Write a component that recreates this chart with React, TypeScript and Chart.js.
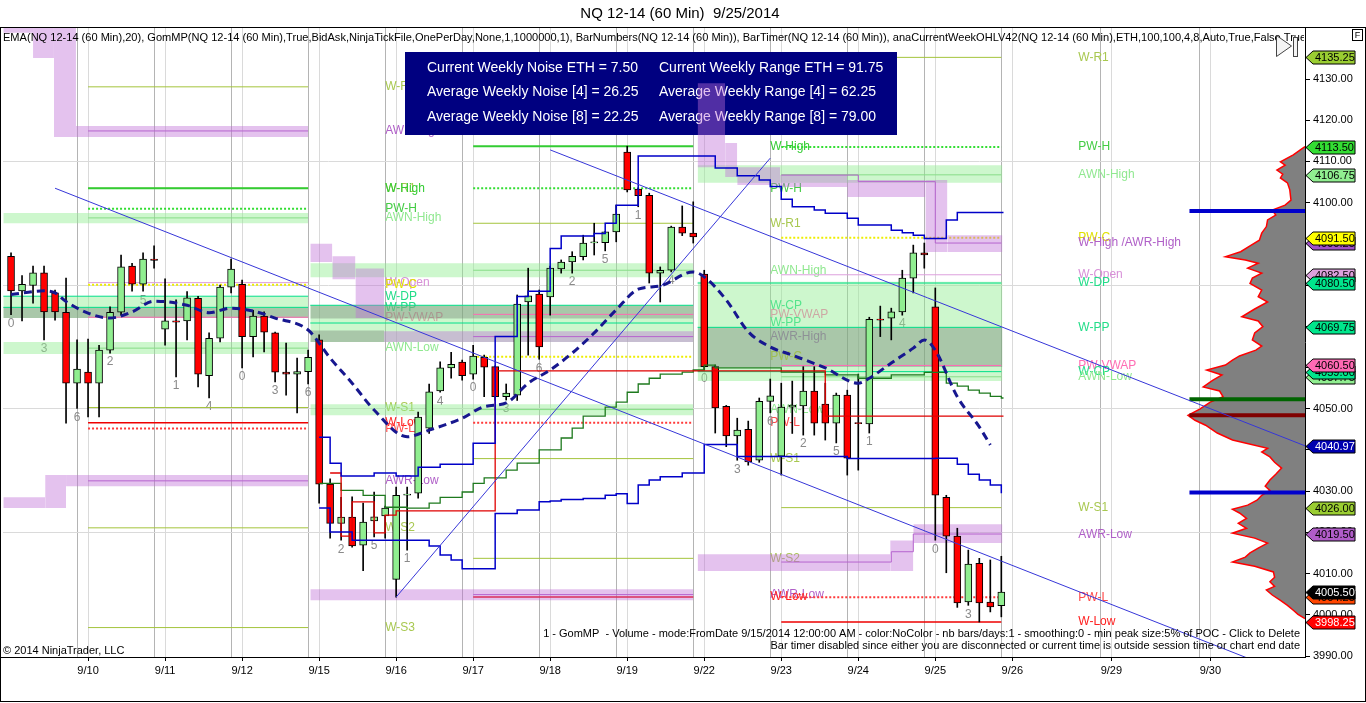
import React, { useEffect, useRef } from 'react';
import { Chart, registerables } from 'chart.js';

Chart.register(...registerables);

const FONT = '"Liberation Sans", Arial, Helvetica, sans-serif';

// ---------- texts ----------
const TITLE = 'NQ 12-14 (60 Min)  9/25/2014';
const INDICATOR_LINE =
  'EMA(NQ 12-14 (60 Min),20), GomMP(NQ 12-14 (60 Min),True,BidAsk,NinjaTickFile,OnePerDay,None,1,1000000,1), BarNumbers(NQ 12-14 (60 Min)), BarTimer(NQ 12-14 (60 Min)), anaCurrentWeekOHLV42(NQ 12-14 (60 Min),ETH,100,100,4,8,Auto,True,False,True)';
const INDICATOR_FIT_PREFIX =
  'EMA(NQ 12-14 (60 Min),20), GomMP(NQ 12-14 (60 Min),True,BidAsk,NinjaTickFile,OnePerDay,None,1,1000000,1), BarNumbers(NQ 12-14 (60 Min)), BarTimer(NQ 12-14 (60 Min)), anaCurrentWeekOHLV42(NQ 12-14 (60 Min),ETH,100,100,4,8,Auto,True,False,Tru';
const INFO_LEFT = ['Current Weekly Noise ETH = 7.50', 'Average Weekly Noise [4] = 26.25', 'Average Weekly Noise [8] = 22.25'];
const INFO_RIGHT = ['Current Weekly Range ETH = 91.75', 'Average Weekly Range [4] = 62.25', 'Average Weekly Range [8] = 79.00'];
const GOM_TEXT =
  '1 - GomMP  - Volume - mode:FromDate 9/15/2014 12:00:00 AM - color:NoColor - nb bars/days:1 - smoothing:0 - min peak size:5% of POC - Click to Delete';
const TIMER_TEXT =
  'Bar timer disabled since either you are disconnected or current time is outside session time or chart end date';
const COPYRIGHT = '\u00A9 2014 NinjaTrader, LLC';

// ---------- axes ----------
const DATE_TICKS = [7, 14, 21, 28, 35, 42, 49, 56, 63, 70, 77, 84, 91, 100, 109];
const DATE_LABELS = ['9/10', '9/11', '9/12', '9/15', '9/16', '9/17', '9/18', '9/19', '9/22', '9/23', '9/24', '9/25', '9/26', '9/29', '9/30'];
const SESSION_BREAKS = [6, 13, 20, 27, 34, 41, 48, 55, 62, 69, 76, 83, 90, 99, 108];
const PRICE_TICKS = [3990, 4000, 4010, 4020, 4030, 4040, 4050, 4060, 4070, 4080, 4090, 4100, 4110, 4120, 4130];
const PRICE_GRID = [4020, 4050, 4080, 4110];
const X_MIN = -0.73;
const X_MAX = 117.6;
const Y_MIN = 3989.76;
const Y_MAX = 4142.62;

// ---------- 60 min bars (9/9 .. 9/25, 7 bars per session) ----------
const OPEN = [4087.0, 4078.6, 4079.9, 4083.0, 4078.1, 4073.4, 4056.2, 4058.9, 4056.2, 4064.2,
  4073.4, 4084.6, 4080.2, 4086.3, 4069.3, 4071.3, 4071.3, 4076.8, 4058.0, 4067.1,
  4079.5, 4080.2, 4067.5, 4072.5, 4068.4, 4058.9, 4058.4, 4059.0, 4066.7, 4031.7,
  4022.2, 4023.7, 4016.9, 4022.8, 4024.0, 4008.6, 4029.0, 4029.5, 4045.3, 4054.3,
  4059.9, 4061.3, 4058.4, 4062.5, 4060.2, 4052.9, 4053.3, 4075.9, 4077.8, 4077.1,
  4083.9, 4085.6, 4086.9, 4090.2, 4090.3, 4092.9, 4112.3, 4103.3, 4101.8, 4082.9,
  4083.6, 4094.1, 4092.6, 4082.7, 4060.2, 4050.6, 4043.4, 4045.0, 4037.5, 4051.8,
  4038.5, 4050.4, 4050.7, 4054.3, 4051.1, 4046.5, 4053.3, 4046.6, 4046.3, 4071.7,
  4072.0, 4073.5, 4081.7, 4087.8, 4074.7, 4028.5, 4019.1, 4003.1, 4012.5, 4003.1,
  4002.2];
const HIGH = [4087.8, 4082.3, 4084.6, 4084.6, 4078.8, 4081.7, 4066.7, 4066.9, 4065.4, 4074.7,
  4087.3, 4085.3, 4087.8, 4089.5, 4081.5, 4076.4, 4078.4, 4077.3, 4068.4, 4080.0,
  4086.3, 4081.2, 4073.9, 4073.5, 4068.6, 4065.9, 4062.3, 4064.2, 4067.9, 4033.0,
  4028.5, 4028.6, 4027.1, 4029.8, 4026.4, 4031.0, 4031.0, 4049.2, 4056.0, 4061.4,
  4063.7, 4061.8, 4065.4, 4063.0, 4060.4, 4056.0, 4077.6, 4084.1, 4078.8, 4084.6,
  4086.1, 4088.1, 4092.1, 4095.0, 4093.0, 4099.4, 4113.7, 4103.5, 4102.3, 4084.4,
  4094.3, 4099.2, 4100.2, 4083.6, 4060.6, 4050.8, 4047.7, 4047.0, 4052.6, 4057.2,
  4056.2, 4056.7, 4060.2, 4060.2, 4056.2, 4053.8, 4054.5, 4058.4, 4072.2, 4074.9,
  4074.4, 4083.6, 4089.7, 4090.2, 4079.3, 4029.0, 4021.0, 4015.7, 4013.7, 4013.3,
  4014.2];
const LOW = [4072.8, 4071.3, 4075.6, 4066.7, 4071.5, 4046.5, 4050.1, 4048.0, 4048.0, 4063.5,
  4072.7, 4078.5, 4078.5, 4084.1, 4065.4, 4057.7, 4066.7, 4055.3, 4052.6, 4066.2,
  4078.1, 4059.9, 4062.6, 4063.8, 4056.5, 4053.3, 4049.0, 4056.0, 4027.1, 4018.6,
  4018.1, 4016.4, 4010.7, 4018.9, 4018.6, 4004.3, 4015.7, 4028.3, 4044.0, 4054.0,
  4057.4, 4056.9, 4057.2, 4052.9, 4052.1, 4052.1, 4052.0, 4063.0, 4062.0, 4072.7,
  4082.9, 4082.9, 4086.1, 4087.3, 4088.3, 4090.5, 4102.6, 4099.0, 4080.5, 4075.9,
  4083.2, 4092.0, 4090.2, 4059.5, 4044.1, 4040.8, 4037.5, 4036.3, 4037.0, 4049.0,
  4033.9, 4044.0, 4043.6, 4043.6, 4042.4, 4041.7, 4033.9, 4035.1, 4044.1, 4067.5,
  4066.7, 4072.7, 4078.1, 4084.1, 4018.1, 4010.2, 4001.8, 4002.3, 3998.25, 4000.7,
  3999.5];
const CLOSE = [4078.6, 4080.2, 4083.0, 4073.5, 4073.5, 4056.2, 4059.6, 4056.2, 4064.2, 4073.4,
  4084.4, 4080.2, 4086.3, 4086.0, 4071.3, 4071.0, 4076.9, 4058.4, 4067.1, 4079.5,
  4083.9, 4067.5, 4072.5, 4068.6, 4058.9, 4058.4, 4059.0, 4062.5, 4031.7, 4022.2,
  4023.7, 4016.7, 4022.5, 4023.8, 4025.9, 4029.0, 4029.3, 4048.0, 4054.1, 4059.9,
  4060.8, 4058.0, 4062.8, 4060.1, 4052.9, 4053.8, 4075.4, 4077.4, 4065.0, 4084.1,
  4085.6, 4087.0, 4090.2, 4090.5, 4092.9, 4097.2, 4103.1, 4101.7, 4082.9, 4083.6,
  4094.1, 4092.6, 4091.7, 4060.2, 4050.2, 4043.4, 4044.8, 4037.1, 4051.8, 4053.1,
  4050.4, 4050.9, 4054.3, 4046.5, 4046.5, 4053.3, 4038.0, 4046.4, 4071.7, 4071.5,
  4073.5, 4081.7, 4087.8, 4087.3, 4029.0, 4019.1, 4002.9, 4012.3, 4002.9, 4001.9,
  4005.5];

// EMA(20) readings [bar, price]
const EMA20: [number, number][] = [
  [0, 4077.7], [3, 4078.6], [4, 4078.1], [5, 4076.0], [7, 4073.2], [9, 4072.0], [11, 4073.5], [13, 4076.1],
  [16, 4075.1], [18, 4073.3], [20, 4074.4], [22, 4073.7], [24, 4072.0], [27, 4069.1], [29, 4062.3], [31, 4056.2],
  [33, 4049.7], [36, 4043.2], [38, 4044.8], [41, 4047.7], [43, 4050.5], [45, 4051.4], [47, 4056.2], [49, 4059.4],
  [51, 4063.5], [53, 4068.4], [55, 4074.0], [57, 4079.0], [59, 4079.8], [62, 4083.2], [63, 4082.0], [65, 4076.4],
  [67, 4068.7], [69, 4065.0], [71, 4063.0], [74, 4059.9], [77, 4056.2], [78, 4057.4], [80, 4061.1], [82, 4064.7],
  [83, 4066.7], [84, 4064.2], [86, 4052.9], [88, 4045.6], [89, 4041.2]];

// weekly VWAP style step lines [bar, price]
const BAND_UPPER: [number, number][] = [
  [28, 4043.1], [29, 4036.8], [30, 4033.7], [33, 4034.4], [35, 4033.7], [37, 4035.8], [39, 4036.5], [42, 4041.6],
  [44, 4067.5], [46, 4077.2], [47, 4078.5], [49, 4088.9], [50, 4091.9], [53, 4092.5], [54, 4095.0], [55, 4099.4],
  [57, 4111.3], [64, 4108.4], [66, 4106.5], [68, 4105.5], [69, 4103.9], [70, 4100.8], [71, 4099.0], [73, 4098.2],
  [74, 4097.4], [76, 4096.2], [77, 4094.6], [80, 4093.3], [81, 4092.7], [82, 4092.1], [83, 4091.3], [85, 4095.8],
  [86, 4097.6], [90.2, 4097.6]];
const BAND_LOWER: [number, number][] = [
  [28, 4025.9], [29, 4020.1], [31, 4018.1], [38, 4016.7], [39, 4014.5], [40, 4013.3], [41, 4011.2], [44, 4024.6],
  [46, 4025.4], [48, 4027.4], [49, 4027.6], [50, 4028.0], [52, 4028.2], [54, 4029.0], [55, 4029.4], [56, 4027.0],
  [57, 4031.5], [58, 4032.7], [59, 4033.5], [61, 4034.4], [63, 4041.3], [66, 4038.4], [76, 4037.9], [84, 4038.0],
  [86, 4036.5], [87, 4034.1], [88, 4032.7], [89, 4031.5], [90, 4029.5]];
const WEEK_VWAP: [number, number][] = [
  [28, 4031.9], [30, 4030.2], [32, 4029.0], [34, 4026.1], [36, 4025.9], [38, 4027.1], [39, 4028.5], [41, 4029.8],
  [42, 4031.9], [43, 4033.2], [45, 4035.1], [46, 4036.8], [48, 4040.0], [50, 4042.9], [51, 4045.3], [52, 4048.2],
  [54, 4050.4], [55, 4051.6], [56, 4054.0], [57, 4056.0], [58, 4057.4], [59, 4058.4], [61, 4058.9], [62, 4059.4],
  [63, 4060.6], [64, 4059.9], [70, 4058.9], [74, 4058.2], [77, 4057.4], [80, 4058.2], [83, 4058.8], [85, 4056.2],
  [86, 4055.5], [87, 4054.5], [88, 4053.8], [89, 4053.0], [90, 4052.6], [90.2, 4052.6]];
const WEEK_POC: [number, number][] = [
  [29, 4034.4], [30, 4019.1], [31, 4027.4], [33, 4019.9], [34, 4024.2], [35, 4025.2], [44, 4059.2], [74, 4048.2],
  [90.2, 4048.2]];

// trend lines [bar, price] pairs
const TRENDLINES: [number, number, number, number][] = [
  [4, 4103.5, 117.6, 3984.0],
  [49, 4112.8, 117.6, 4041.0],
  [35, 4004.3, 69, 4110.8]];

// ---------- weekly levels ----------
const LEFT_RANGE: [number, number] = [7, 27];
const MID_RANGE: [number, number] = [42, 62];
const RIGHT_RANGE: [number, number] = [70, 90];
const LEFT_WEEK: [number, number] = [-0.7, 27];
const MID_WEEK: [number, number] = [27.2, 62];
const RIGHT_WEEK: [number, number] = [62.4, 90];

const LEFT_LEVELS: [string, number][] = [
  ['W-R2', 4128.1], ['AWR-High', 4117.4], ['W-R1', 4103.5], ['W-High', 4103.5], ['PW-H', 4098.5], ['AWN-High', 4096.3],
  ['W-Open', 4080.6], ['PW-C', 4080.1], ['W-DP', 4077.3], ['W-PP', 4074.6], ['PW-VWAP', 4072.2], ['AWN-Low', 4064.7],
  ['W-S1', 4050.3], ['W-Low', 4046.6], ['PW-L', 4045.2], ['AWR-Low', 4032.5], ['W-S2', 4021.1], ['W-S3', 3996.9]];
const MID_LEVELS: [string, number][] = [
  ['W-High', 4113.7], ['PW-H', 4103.5], ['W-R1', 4095.0], ['AWN-High', 4083.6], ['W-CP', 4075.1], ['PW-VWAP', 4072.9],
  ['W-PP', 4070.8], ['AWR-High', 4067.5], ['PW-C', 4062.6], ['AWN-Low', 4049.8], ['PW-L', 4046.6], ['W-S1', 4037.9],
  ['W-S2', 4013.7], ['AWR-Low', 4004.9], ['W-Low', 4004.3]];
const RIGHT_LEVELS: [string, number][] = [
  ['W-R1', 4135.25], ['PW-H', 4113.5], ['AWN-High', 4106.75], ['PW-C', 4091.5], ['W-Open', 4082.5], ['W-DP', 4080.5],
  ['W-PP', 4069.75], ['PW-VWAP', 4060.5], ['W-CP', 4059.0], ['AWN-Low', 4057.75], ['W-S1', 4026.0], ['PW-L', 4004.25],
  ['W-Low', 3998.25]];
const RIGHT_EXTRA_LABELS: [string, number][] = [['W-High /AWR-High', 4090.25], ['AWR-Low', 4019.5]];
const LEFT_LABEL_BAR = 34;
const MID_LABEL_BAR = 69;
const RIGHT_LABEL_BAR = 97;

// stepped AWR lines of the current week [bar, price]
const AWR_HIGH_STEP: [number, number][] = [[70, 4106.7], [77, 4105.1], [84, 4090.2], [90, 4090.2]];
const AWR_LOW_STEP: [number, number][] = [[70, 4012.8], [80, 4015.3], [82, 4019.6], [90, 4019.6]];

// zones [barFrom, barTo, priceTop, priceBottom]
const GREEN_ZONES: [number, number, number, number][] = [
  [-0.7, 27, 4097.5, 4095.0], [-0.7, 27, 4077.3, 4072.0], [-0.7, 27, 4066.2, 4063.3],
  [27.2, 62, 4085.3, 4081.9], [27.2, 62, 4075.1, 4066.2], [27.2, 62, 4051.1, 4048.4],
  [62.4, 90.1, 4109.1, 4104.8], [62.4, 90.1, 4080.8, 4056.7]];
const GRAY_ZONES: [number, number, number, number][] = [
  [-0.7, 27, 4074.7, 4072.0], [27.2, 62, 4075.1, 4071.9], [27.2, 33.9, 4069.0, 4066.2], [62.4, 90.1, 4069.8, 4060.1]];
const AWR_ZONES: [number, number, number, number][] = [
  [-0.7, 2.0, 4143.0, 4141.2], [2.0, 3.9, 4143.0, 4135.1], [3.9, 5.9, 4143.0, 4115.9], [5.9, 27, 4118.6, 4115.9],
  [-0.7, 3.1, 4028.5, 4025.9], [3.1, 5.0, 4033.9, 4025.9], [5.0, 27, 4033.9, 4031.2],
  [27.2, 29.2, 4090.0, 4085.6], [29.2, 31.3, 4087.0, 4081.4], [31.3, 33.9, 4084.0, 4072.0], [33.9, 62, 4068.8, 4066.2],
  [27.2, 62, 4006.2, 4003.5],
  [62.4, 64.9, 4129.0, 4108.6], [64.9, 66.0, 4114.5, 4106.2], [66.0, 69.9, 4108.6, 4104.3], [69.9, 76.0, 4106.7, 4103.8],
  [76.0, 83.1, 4105.5, 4101.4], [83.1, 85.1, 4105.5, 4088.0], [85.1, 90.1, 4092.1, 4088.0],
  [62.4, 79.9, 4014.7, 4010.6], [79.9, 82.0, 4018.0, 4010.6], [82.0, 90.1, 4022.0, 4017.4]];

// ---------- volume profile (GomMP), volume in % of POC ----------
const VP_PRICE = [3999.1, 4000.1, 4001.1, 4002.3, 4003.5, 4004.8, 4006.0, 4006.9, 4008.0, 4009.1, 4010.4, 4011.8,
  4012.8, 4014.0, 4015.0, 4016.2, 4017.4, 4018.6, 4019.8, 4021.0, 4022.2, 4023.4, 4024.7, 4025.6, 4026.6, 4027.8,
  4029.0, 4030.2, 4031.2, 4032.7, 4034.1, 4035.6, 4037.0, 4038.3, 4039.5, 4040.4, 4042.4, 4044.1, 4046.0, 4047.2,
  4048.4, 4049.9, 4051.6, 4052.9, 4054.3, 4055.3, 4056.9, 4058.2, 4059.4, 4060.6, 4061.8, 4062.8, 4064.2, 4065.2,
  4066.7, 4068.4, 4069.9, 4071.3, 4072.3, 4074.2, 4075.9, 4077.2, 4078.8, 4080.4, 4081.7, 4082.9, 4084.1, 4085.3,
  4086.1, 4086.9, 4088.1, 4089.5, 4090.9, 4092.6, 4094.2, 4095.8, 4097.0, 4098.2, 4099.4, 4100.6, 4103.1, 4104.8,
  4106.0, 4106.9, 4107.9, 4109.1, 4109.9, 4111.6, 4112.8, 4113.6];
const VP_VOL = [0, 6, 10, 15, 21, 28, 33, 26, 30, 26, 27, 43,
  62, 51, 47, 40, 32, 43, 62, 50, 57, 50, 56, 62, 49, 41,
  37, 30, 34, 30, 25, 20, 26, 30, 37, 32, 62, 75, 85, 94,
  100, 90, 81, 70, 73, 87, 79, 71, 84, 68, 62, 56, 42, 37,
  45, 43, 36, 40, 54, 43, 32, 40, 37, 47, 45, 37, 49, 40,
  51, 68, 55, 47, 39, 37, 33, 32, 25, 28, 17, 12, 13, 15,
  21, 19, 24, 17, 21, 10, 4, 0];
const VP_AXIS_MAX = 1113;
const VP_PEAKS = [4098.0, 4052.3, 4048.4, 4029.7];
const VP_PEAK_FROM = 107.1;

// price markers on the right axis
const FLAG_VALUES = [4135.25, 4113.5, 4106.75, 4090.25, 4091.5, 4082.5, 4080.5, 4069.75, 4057.75, 4059.0, 4060.5,
  4040.97, 4026.0, 4019.5, 4004.25, 4005.5, 3998.25];

// ---------- styles ----------
const OLIVE = '#a4c43c';
const LEVEL_STYLE: Record<string, [string, number, number[]]> = {
  'W-R1': [OLIVE, 1, []], 'W-R2': [OLIVE, 1, []], 'W-S1': [OLIVE, 1, []], 'W-S2': [OLIVE, 1, []], 'W-S3': [OLIVE, 1, []],
  'W-High': ['#33cc33', 2, []], 'PW-H': ['#33dd33', 2, [2, 2]],
  'AWN-High': ['#88dd88', 1, []], 'AWN-Low': ['#88dd88', 1, []],
  'W-Open': ['#dda0dd', 1, []], 'PW-C': ['#eeee00', 2, [2, 2]],
  'W-DP': ['#00e08a', 1, []], 'W-PP': ['#00e08a', 1, []], 'W-CP': ['#00e08a', 1, []],
  'PW-VWAP': ['#ff69b4', 1, []],
  'AWR-High': ['#b05cc8', 1, []], 'AWR-Low': ['#b05cc8', 1, []],
  'W-Low': ['#ee0000', 1.5, []], 'PW-L': ['#ff3a3a', 2, [2, 2]],
};
const WEEK_WIDE = ['W-DP', 'W-PP', 'W-CP'];
const LABEL_COLOR: Record<string, string> = {
  'W-R1': '#a8c850', 'W-R2': '#a8c850', 'W-S1': '#a8c850', 'W-S2': '#a8c850', 'W-S3': '#a8c850',
  'W-High': '#33cc33', 'PW-H': '#44cc44', 'AWN-High': '#90e890', 'AWN-Low': '#90e890',
  'W-Open': '#d890d8', 'PW-C': '#e0e000', 'W-DP': '#22dd88', 'W-PP': '#22dd88', 'W-CP': '#22dd88',
  'PW-VWAP': '#ff6eb4', 'AWR-High': '#b060c8', 'AWR-Low': '#b060c8', 'W-High /AWR-High': '#b060c8',
  'W-Low': '#ff2020', 'PW-L': '#ff4a4a',
};
const FLAG_STYLE: [string, string][] = [
  ['#9acd32', '#000'], ['#33dd33', '#000'], ['#90ee90', '#000'], ['#a050c8', '#000'], ['#ffff00', '#000'],
  ['#dda0dd', '#000'], ['#00e68c', '#000'], ['#00e68c', '#000'], ['#90ee90', '#000'], ['#00e68c', '#000'],
  ['#ff69b4', '#000'], ['#0000b0', '#fff'], ['#9acd32', '#000'], ['#b05cc8', '#000'], ['#ff4500', '#000'],
  ['#000000', '#fff'], ['#ff0000', '#fff']];
const PEAK_COLORS = ['#0000cc', '#006400', '#800000', '#0000cc'];

// ---------- dataset helpers ----------
function hline(x1: number, x2: number, p: number, color: string, width: number, dash: number[], order: number) {
  return {
    type: 'line', data: [{ x: x1, y: p }, { x: x2, y: p }], borderColor: color, borderWidth: width,
    borderDash: dash, pointRadius: 0, fill: false, order,
  };
}
function zone(z: [number, number, number, number], color: string, order: number) {
  return {
    type: 'line', data: [{ x: z[0], y: z[2] }, { x: z[1], y: z[2] }], borderColor: 'rgba(0,0,0,0)', borderWidth: 1,
    backgroundColor: color, fill: { value: z[3] }, pointRadius: 0, order,
  };
}
function pts(a: [number, number][]) {
  return a.map(([x, y]) => ({ x, y }));
}

function buildDatasets() {
  const ds: any[] = [];
  GREEN_ZONES.forEach((z) => ds.push(zone(z, 'rgba(144,238,144,0.45)', 100)));
  GRAY_ZONES.forEach((z) => ds.push(zone(z, 'rgba(110,120,110,0.38)', 99)));
  const groups: [[string, number][], [number, number], [number, number]][] = [
    [LEFT_LEVELS, LEFT_RANGE, LEFT_WEEK], [MID_LEVELS, MID_RANGE, MID_WEEK], [RIGHT_LEVELS, RIGHT_RANGE, RIGHT_WEEK]];
  groups.forEach(([levels, range, week]) => {
    levels.forEach(([name, p]) => {
      const st = LEVEL_STYLE[name];
      const r = WEEK_WIDE.includes(name) ? week : range;
      const order = name === 'W-High' ? 94 : 95;
      ds.push(hline(r[0], r[1], p, st[0], st[1], st[2], order));
    });
  });
  [AWR_HIGH_STEP, AWR_LOW_STEP].forEach((s) =>
    ds.push({ type: 'line', data: pts(s), stepped: true, borderColor: '#b05cc8', borderWidth: 1, pointRadius: 0, fill: false, order: 94 }));
  ds.push({ type: 'line', label: '__box', data: [], order: 93 });
  AWR_ZONES.forEach((z) => ds.push(zone(z, 'rgba(190,110,215,0.42)', 92)));
  // volume profile
  ds.push({
    type: 'line', indexAxis: 'y', xAxisID: 'xv', yAxisID: 'y',
    data: VP_PRICE.map((p, i) => ({ x: VP_VOL[i], y: p })),
    borderColor: '#ff0000', borderWidth: 1.5, backgroundColor: '#808080', fill: { value: 0 }, pointRadius: 0, order: 85,
  });
  VP_PEAKS.forEach((p, i) => ds.push(hline(VP_PEAK_FROM, X_MAX, p, PEAK_COLORS[i], 4, [], 84)));
  // candles
  ds.push({
    type: 'bar', data: LOW.map((l, i) => ({ x: i, y: [l, HIGH[i]] })), backgroundColor: '#000', borderWidth: 0,
    barThickness: 1, grouped: false, order: 61,
  });
  ds.push({
    type: 'bar', data: OPEN.map((o, i) => ({ x: i, y: [o, CLOSE[i]] })),
    backgroundColor: OPEN.map((o, i) => (CLOSE[i] > o ? '#90ee90' : CLOSE[i] < o ? '#ff0000' : '#000')),
    borderColor: '#000', borderWidth: 1, borderSkipped: false, barThickness: 7, grouped: false, minBarLength: 1, order: 60,
  });
  ds.push({ type: 'line', data: pts(WEEK_VWAP), stepped: true, borderColor: '#1e7a1e', borderWidth: 1.3, pointRadius: 0, fill: false, order: 45 });
  ds.push({ type: 'line', data: pts(WEEK_POC), stepped: true, borderColor: '#e00000', borderWidth: 1.3, pointRadius: 0, fill: false, order: 44 });
  [BAND_UPPER, BAND_LOWER].forEach((s) =>
    ds.push({ type: 'line', data: pts(s), stepped: true, borderColor: '#0000c8', borderWidth: 1.5, pointRadius: 0, fill: false, order: 30 }));
  TRENDLINES.forEach(([x1, p1, x2, p2]) =>
    ds.push({ type: 'line', data: [{ x: x1, y: p1 }, { x: x2, y: p2 }], borderColor: '#3636d8', borderWidth: 1, pointRadius: 0, fill: false, order: 20 }));
  ds.push({
    type: 'line', data: pts(EMA20), borderColor: '#17178f', borderWidth: 3, borderDash: [8, 5],
    cubicInterpolationMode: 'monotone', pointRadius: 0, fill: false, order: 10,
  });
  return ds;
}

// ---------- overlay drawing ----------
const overlayPlugin = {
  id: 'ntOverlay',
  beforeDatasetsDraw(chart: any) {
    const { ctx, chartArea: a } = chart;
    const xs = chart.scales.x;
    const ys = chart.scales.y;
    ctx.save();
    ctx.beginPath();
    ctx.rect(a.left, a.top, a.right - a.left, a.bottom - a.top);
    ctx.clip();
    ctx.font = `12px ${FONT}`;
    ctx.textBaseline = 'middle';
    ctx.textAlign = 'left';
    const labelGroups: [[string, number][], number][] = [
      [LEFT_LEVELS, LEFT_LABEL_BAR], [MID_LEVELS, MID_LABEL_BAR], [RIGHT_LEVELS.concat(RIGHT_EXTRA_LABELS), RIGHT_LABEL_BAR]];
    labelGroups.forEach(([labels, bar]) => {
      const px = xs.getPixelForValue(bar);
      labels.forEach(([name, p]) => {
        ctx.fillStyle = LABEL_COLOR[name] || '#000';
        ctx.fillText(name, px, ys.getPixelForValue(p));
      });
    });
    ctx.fillStyle = '#8a8a8a';
    ctx.textAlign = 'center';
    ctx.textBaseline = 'top';
    for (let i = 0; i < LOW.length - 1; i += 3) {
      ctx.fillText(String(i % 7), xs.getPixelForValue(i), ys.getPixelForValue(LOW[i]) + 3);
    }
    ctx.restore();
  },
  afterDatasetDraw(chart: any, args: any) {
    const d = chart.data.datasets[args.index];
    if (!d || d.label !== '__box') return;
    const { ctx } = chart;
    ctx.save();
    ctx.fillStyle = '#000080';
    ctx.fillRect(405, 52, 492, 83);
    ctx.fillStyle = '#ffffff';
    ctx.font = `14px ${FONT}`;
    ctx.textBaseline = 'middle';
    ctx.textAlign = 'left';
    const rows = [68, 92, 117];
    INFO_LEFT.forEach((t, i) => ctx.fillText(t, 427, rows[i]));
    INFO_RIGHT.forEach((t, i) => ctx.fillText(t, 659, rows[i]));
    ctx.restore();
  },
  afterDatasetsDraw(chart: any) {
    const { ctx, chartArea: a } = chart;
    ctx.save();
    ctx.beginPath();
    ctx.rect(0, a.top, a.right - 1, a.bottom - a.top);
    ctx.clip();
    ctx.fillStyle = '#000';
    ctx.textBaseline = 'middle';
    ctx.font = `11px ${FONT}`;
    const w = ctx.measureText(INDICATOR_FIT_PREFIX).width;
    const sx = 1297 / w;
    ctx.save();
    ctx.scale(sx, 1);
    ctx.textAlign = 'left';
    ctx.fillText(INDICATOR_LINE, 3 / sx, 38);
    ctx.restore();
    ctx.textAlign = 'right';
    ctx.fillText(GOM_TEXT, 1300, 634);
    ctx.fillText(TIMER_TEXT, 1300, 646);
    ctx.textAlign = 'left';
    ctx.fillText(COPYRIGHT, 3, 651);
    // chart-trader style icon
    ctx.strokeStyle = '#444';
    ctx.fillStyle = '#f4f4f4';
    ctx.lineWidth = 1;
    ctx.beginPath();
    ctx.moveTo(1276.5, 35.5);
    ctx.lineTo(1291.5, 46);
    ctx.lineTo(1276.5, 56.5);
    ctx.closePath();
    ctx.fill();
    ctx.stroke();
    ctx.fillRect(1293.5, 37.5, 4, 19);
    ctx.strokeRect(1293.5, 37.5, 4, 19);
    ctx.restore();
  },
  afterDraw(chart: any) {
    const { ctx } = chart;
    const ys = chart.scales.y;
    ctx.save();
    ctx.fillStyle = '#000';
    ctx.font = `15px ${FONT}`;
    ctx.textAlign = 'center';
    ctx.textBaseline = 'middle';
    ctx.fillText(TITLE, 680, 14);
    ctx.strokeStyle = '#000';
    ctx.lineWidth = 1;
    ctx.strokeRect(0.5, 27.5, 1365, 674);
    ctx.beginPath();
    ctx.moveTo(0, 657.5);
    ctx.lineTo(1305, 657.5);
    ctx.stroke();
    // F button
    ctx.fillStyle = '#fff';
    ctx.fillRect(1352.5, 29.5, 10, 11);
    ctx.strokeRect(1352.5, 29.5, 10, 11);
    ctx.fillStyle = '#000';
    ctx.font = `9px ${FONT}`;
    ctx.fillText('F', 1357.5, 35.5);
    // price markers
    ctx.font = `11px ${FONT}`;
    ctx.textAlign = 'left';
    FLAG_VALUES.forEach((v, i) => {
      const y = Math.round(ys.getPixelForValue(v)) + 0.5;
      ctx.beginPath();
      ctx.moveTo(1306, y);
      ctx.lineTo(1313, y - 6.5);
      ctx.lineTo(1355, y - 6.5);
      ctx.lineTo(1355, y + 6.5);
      ctx.lineTo(1313, y + 6.5);
      ctx.closePath();
      ctx.fillStyle = FLAG_STYLE[i][0];
      ctx.fill();
      ctx.strokeStyle = '#000';
      ctx.stroke();
      ctx.fillStyle = FLAG_STYLE[i][1];
      ctx.fillText(v.toFixed(2), 1315, y + 0.5);
    });
    ctx.restore();
  },
};

function buildConfig(): any {
  const tickFont = { family: FONT, size: 11 };
  return {
    type: 'line',
    data: { datasets: buildDatasets() },
    options: {
      responsive: false,
      animation: false,
      events: [],
      layout: { padding: { left: 3, top: 27, right: 0, bottom: 0 } },
      plugins: { legend: { display: false }, tooltip: { enabled: false } },
      scales: {
        x: {
          type: 'linear', position: 'bottom', min: X_MIN, max: X_MAX, offset: false,
          afterBuildTicks: (s: any) => { s.ticks = DATE_TICKS.map((v) => ({ value: v })); },
          afterFit: (s: any) => { s.height = 46; },
          ticks: {
            callback: (_v: any, i: number) => DATE_LABELS[i], autoSkip: false, maxRotation: 0, minRotation: 0,
            font: tickFont, color: '#000', padding: 3,
          },
          grid: { color: '#dadada', tickColor: '#000', tickLength: 4, offset: false },
          border: { color: '#000' },
        },
        xs: {
          type: 'linear', position: 'bottom', min: X_MIN, max: X_MAX, offset: false,
          afterBuildTicks: (s: any) => { s.ticks = SESSION_BREAKS.map((v) => ({ value: v })); },
          afterFit: (s: any) => { s.height = 0; },
          ticks: { display: false },
          grid: { color: '#b4b4b4', drawTicks: false, offset: false },
          border: { display: false },
        },
        xv: { type: 'linear', axis: 'x', position: 'top', display: false, reverse: true, min: 0, max: VP_AXIS_MAX },
        y: {
          type: 'linear', position: 'right', min: Y_MIN, max: Y_MAX,
          afterBuildTicks: (s: any) => { s.ticks = PRICE_TICKS.map((v) => ({ value: v })); },
          afterFit: (s: any) => { s.width = 61; },
          ticks: { callback: (v: any) => Number(v).toFixed(2), font: tickFont, color: '#000', padding: 3, autoSkip: false },
          grid: {
            color: (c: any) => (c.tick && PRICE_GRID.includes(c.tick.value) ? '#dadada' : 'rgba(0,0,0,0)'),
            tickColor: '#000', tickLength: 5,
          },
          border: { color: '#000' },
        },
      },
    },
    plugins: [overlayPlugin],
  };
}

export default function App() {
  const ref = useRef<HTMLCanvasElement>(null);
  useEffect(() => {
    const canvas = ref.current;
    if (!canvas) return;
    const chart = new Chart(canvas, buildConfig());
    return () => chart.destroy();
  }, []);
  return (
    <div style={{ position: 'fixed', left: 0, top: 0, width: 1366, height: 703, background: '#fff', overflow: 'hidden' }}>
      <canvas ref={ref} width={1366} height={703} style={{ display: 'block', width: 1366, height: 703 }} />
    </div>
  );
}
